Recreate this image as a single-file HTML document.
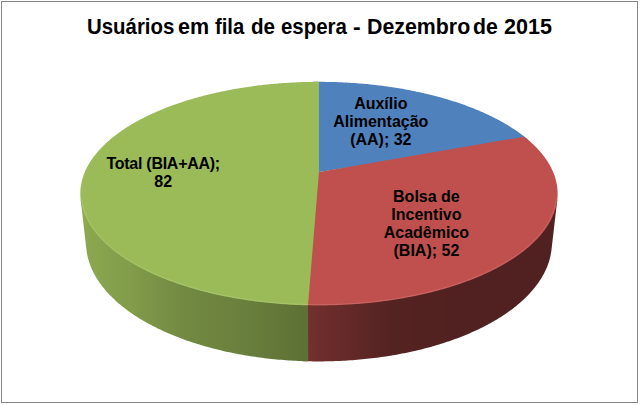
<!DOCTYPE html>
<html><head><meta charset="utf-8">
<style>
html,body{margin:0;padding:0;background:#fff;}
body{width:640px;height:405px;overflow:hidden;position:relative;}
svg{position:absolute;left:0;top:0;}
.t{position:absolute;white-space:nowrap;font-family:"Liberation Sans",sans-serif;font-weight:bold;color:#000;}
.tw{font-size:22px;line-height:1;transform-origin:0 0;}
.lbl{font-size:16px;line-height:18px;text-align:center;width:200px;}
</style></head><body>
<svg width="640" height="405" viewBox="0 0 640 405">
<rect x="0" y="0" width="640" height="405" fill="#fff"/>
<rect x="1.5" y="1.5" width="636" height="401" fill="none" stroke="#868686" stroke-width="1"/>
<linearGradient id="g1" gradientUnits="userSpaceOnUse" x1="554.33" y1="0" x2="308.16" y2="0"><stop offset="-0.0000" stop-color="rgb(80,33,32)"/><stop offset="0.0010" stop-color="rgb(80,33,32)"/><stop offset="0.0022" stop-color="rgb(80,33,32)"/><stop offset="0.0036" stop-color="rgb(80,33,32)"/><stop offset="0.0053" stop-color="rgb(80,33,32)"/><stop offset="0.0073" stop-color="rgb(80,33,32)"/><stop offset="0.0095" stop-color="rgb(80,33,32)"/><stop offset="0.0119" stop-color="rgb(80,33,32)"/><stop offset="0.0146" stop-color="rgb(80,33,32)"/><stop offset="0.0176" stop-color="rgb(80,33,32)"/><stop offset="0.0208" stop-color="rgb(80,33,32)"/><stop offset="0.0243" stop-color="rgb(80,33,32)"/><stop offset="0.0280" stop-color="rgb(80,33,32)"/><stop offset="0.0320" stop-color="rgb(80,33,32)"/><stop offset="0.0362" stop-color="rgb(80,33,32)"/><stop offset="0.0407" stop-color="rgb(80,33,32)"/><stop offset="0.0455" stop-color="rgb(80,33,32)"/><stop offset="0.0505" stop-color="rgb(80,33,32)"/><stop offset="0.0558" stop-color="rgb(80,33,32)"/><stop offset="0.0613" stop-color="rgb(80,33,32)"/><stop offset="0.0671" stop-color="rgb(80,33,32)"/><stop offset="0.0732" stop-color="rgb(80,33,32)"/><stop offset="0.0796" stop-color="rgb(80,33,32)"/><stop offset="0.0862" stop-color="rgb(80,33,32)"/><stop offset="0.0930" stop-color="rgb(80,33,32)"/><stop offset="0.1002" stop-color="rgb(80,33,32)"/><stop offset="0.1076" stop-color="rgb(80,33,32)"/><stop offset="0.1152" stop-color="rgb(80,33,32)"/><stop offset="0.1231" stop-color="rgb(80,33,32)"/><stop offset="0.1313" stop-color="rgb(80,33,32)"/><stop offset="0.1398" stop-color="rgb(80,33,32)"/><stop offset="0.1485" stop-color="rgb(80,33,32)"/><stop offset="0.1575" stop-color="rgb(80,33,32)"/><stop offset="0.1667" stop-color="rgb(80,33,32)"/><stop offset="0.1762" stop-color="rgb(80,33,32)"/><stop offset="0.1859" stop-color="rgb(80,33,32)"/><stop offset="0.1959" stop-color="rgb(80,33,32)"/><stop offset="0.2062" stop-color="rgb(80,33,32)"/><stop offset="0.2167" stop-color="rgb(80,33,32)"/><stop offset="0.2275" stop-color="rgb(80,33,32)"/><stop offset="0.2385" stop-color="rgb(80,33,32)"/><stop offset="0.2497" stop-color="rgb(80,33,32)"/><stop offset="0.2612" stop-color="rgb(80,33,32)"/><stop offset="0.2730" stop-color="rgb(80,33,32)"/><stop offset="0.2849" stop-color="rgb(80,33,32)"/><stop offset="0.2971" stop-color="rgb(80,33,32)"/><stop offset="0.3096" stop-color="rgb(80,33,32)"/><stop offset="0.3223" stop-color="rgb(80,33,32)"/><stop offset="0.3352" stop-color="rgb(80,33,32)"/><stop offset="0.3483" stop-color="rgb(80,33,32)"/><stop offset="0.3616" stop-color="rgb(80,33,32)"/><stop offset="0.3752" stop-color="rgb(80,33,32)"/><stop offset="0.3889" stop-color="rgb(80,33,32)"/><stop offset="0.4029" stop-color="rgb(80,33,32)"/><stop offset="0.4171" stop-color="rgb(80,33,32)"/><stop offset="0.4315" stop-color="rgb(80,33,32)"/><stop offset="0.4460" stop-color="rgb(81,34,32)"/><stop offset="0.4608" stop-color="rgb(81,34,32)"/><stop offset="0.4758" stop-color="rgb(81,34,32)"/><stop offset="0.4909" stop-color="rgb(81,34,33)"/><stop offset="0.5062" stop-color="rgb(81,34,33)"/><stop offset="0.5217" stop-color="rgb(82,34,33)"/><stop offset="0.5373" stop-color="rgb(82,34,33)"/><stop offset="0.5531" stop-color="rgb(82,34,33)"/><stop offset="0.5691" stop-color="rgb(82,34,33)"/><stop offset="0.5852" stop-color="rgb(83,34,33)"/><stop offset="0.6014" stop-color="rgb(83,34,33)"/><stop offset="0.6178" stop-color="rgb(83,35,33)"/><stop offset="0.6343" stop-color="rgb(83,35,33)"/><stop offset="0.6509" stop-color="rgb(83,35,33)"/><stop offset="0.6677" stop-color="rgb(84,35,34)"/><stop offset="0.6846" stop-color="rgb(86,36,34)"/><stop offset="0.7016" stop-color="rgb(87,36,35)"/><stop offset="0.7186" stop-color="rgb(89,37,36)"/><stop offset="0.7358" stop-color="rgb(90,38,36)"/><stop offset="0.7531" stop-color="rgb(92,38,37)"/><stop offset="0.7704" stop-color="rgb(93,39,37)"/><stop offset="0.7878" stop-color="rgb(95,40,38)"/><stop offset="0.8053" stop-color="rgb(97,40,39)"/><stop offset="0.8228" stop-color="rgb(98,41,39)"/><stop offset="0.8404" stop-color="rgb(100,41,40)"/><stop offset="0.8581" stop-color="rgb(101,42,41)"/><stop offset="0.8758" stop-color="rgb(103,43,41)"/><stop offset="0.8935" stop-color="rgb(104,43,42)"/><stop offset="0.9112" stop-color="rgb(106,44,42)"/><stop offset="0.9290" stop-color="rgb(107,45,43)"/><stop offset="0.9467" stop-color="rgb(109,45,44)"/><stop offset="0.9645" stop-color="rgb(111,46,44)"/><stop offset="0.9822" stop-color="rgb(113,47,45)"/><stop offset="1.0000" stop-color="rgb(115,48,46)"/></linearGradient>
<path d="M557.27,199.69 L551.46,249.90 L551.33,250.97 L551.17,252.03 L551.00,253.10 L550.81,254.16 L550.60,255.23 L550.38,256.30 L550.13,257.37 L549.86,258.44 L549.57,259.51 L549.27,260.58 L548.94,261.65 L548.59,262.72 L548.23,263.79 L547.84,264.86 L547.43,265.93 L547.01,267.00 L546.56,268.07 L546.09,269.14 L545.61,270.21 L545.10,271.28 L544.57,272.35 L544.02,273.42 L543.45,274.48 L542.86,275.55 L542.26,276.61 L541.62,277.68 L540.97,278.74 L540.30,279.80 L539.61,280.86 L538.90,281.91 L538.16,282.97 L537.41,284.02 L536.63,285.07 L535.84,286.12 L535.02,287.17 L534.18,288.21 L533.33,289.26 L532.45,290.30 L531.55,291.33 L530.63,292.37 L529.68,293.40 L528.72,294.42 L527.74,295.45 L526.73,296.47 L525.71,297.49 L524.66,298.50 L523.59,299.51 L522.51,300.52 L521.40,301.52 L520.27,302.52 L519.12,303.51 L517.95,304.50 L516.76,305.49 L515.55,306.47 L514.31,307.45 L513.06,308.42 L511.79,309.38 L510.49,310.35 L509.18,311.30 L507.84,312.25 L506.49,313.20 L505.12,314.14 L503.72,315.07 L502.31,316.00 L500.87,316.92 L499.42,317.84 L497.94,318.75 L496.45,319.65 L494.93,320.55 L493.40,321.44 L491.85,322.32 L490.28,323.20 L488.69,324.07 L487.08,324.93 L485.45,325.79 L483.80,326.64 L482.13,327.48 L480.45,328.31 L478.75,329.14 L477.03,329.95 L475.29,330.76 L473.53,331.56 L471.75,332.36 L469.96,333.14 L468.15,333.92 L466.32,334.69 L464.48,335.44 L462.61,336.19 L460.73,336.94 L458.84,337.67 L456.93,338.39 L455.00,339.11 L453.05,339.81 L451.09,340.50 L449.11,341.19 L447.12,341.86 L445.11,342.53 L443.09,343.19 L441.05,343.83 L439.00,344.47 L436.93,345.09 L434.85,345.71 L432.76,346.31 L430.65,346.90 L428.52,347.49 L426.39,348.06 L424.24,348.62 L422.07,349.17 L419.90,349.71 L417.71,350.24 L415.51,350.76 L413.30,351.26 L411.07,351.76 L408.84,352.24 L406.59,352.71 L404.33,353.17 L402.06,353.62 L399.79,354.05 L397.50,354.48 L395.20,354.89 L392.89,355.29 L390.57,355.68 L388.24,356.05 L385.91,356.42 L383.56,356.77 L381.21,357.11 L378.85,357.43 L376.48,357.75 L374.11,358.05 L371.72,358.33 L369.34,358.61 L366.94,358.87 L364.54,359.12 L362.13,359.36 L359.72,359.59 L357.30,359.80 L354.88,360.00 L352.45,360.18 L350.02,360.36 L347.58,360.52 L345.14,360.66 L342.70,360.80 L340.25,360.92 L337.80,361.03 L335.35,361.12 L332.90,361.20 L330.44,361.27 L327.99,361.33 L325.53,361.37 L323.07,361.40 L320.61,361.41 L318.15,361.41 L315.69,361.40 L313.23,361.38 L310.77,361.34 L308.32,361.29 L305.86,361.23 L303.41,361.15 L302.95,305.19 L318.97,172.11 Z" fill="url(#g1)"/>
<linearGradient id="g2" gradientUnits="userSpaceOnUse" x1="308.16" y1="0" x2="83.61" y2="0"><stop offset="-0.0000" stop-color="rgb(93,112,53)"/><stop offset="0.0184" stop-color="rgb(94,113,54)"/><stop offset="0.0367" stop-color="rgb(95,114,54)"/><stop offset="0.0550" stop-color="rgb(96,115,55)"/><stop offset="0.0733" stop-color="rgb(96,116,55)"/><stop offset="0.0915" stop-color="rgb(97,117,56)"/><stop offset="0.1097" stop-color="rgb(98,118,56)"/><stop offset="0.1278" stop-color="rgb(99,119,57)"/><stop offset="0.1459" stop-color="rgb(99,120,57)"/><stop offset="0.1639" stop-color="rgb(100,121,58)"/><stop offset="0.1818" stop-color="rgb(101,122,58)"/><stop offset="0.1996" stop-color="rgb(102,123,58)"/><stop offset="0.2174" stop-color="rgb(103,124,59)"/><stop offset="0.2350" stop-color="rgb(103,125,59)"/><stop offset="0.2526" stop-color="rgb(104,126,60)"/><stop offset="0.2701" stop-color="rgb(105,127,60)"/><stop offset="0.2874" stop-color="rgb(106,127,61)"/><stop offset="0.3046" stop-color="rgb(106,128,61)"/><stop offset="0.3217" stop-color="rgb(107,129,61)"/><stop offset="0.3387" stop-color="rgb(107,129,62)"/><stop offset="0.3556" stop-color="rgb(108,130,62)"/><stop offset="0.3723" stop-color="rgb(108,131,62)"/><stop offset="0.3888" stop-color="rgb(109,131,62)"/><stop offset="0.4052" stop-color="rgb(109,132,63)"/><stop offset="0.4215" stop-color="rgb(110,132,63)"/><stop offset="0.4376" stop-color="rgb(110,133,63)"/><stop offset="0.4535" stop-color="rgb(111,134,64)"/><stop offset="0.4693" stop-color="rgb(111,134,64)"/><stop offset="0.4848" stop-color="rgb(112,135,64)"/><stop offset="0.5003" stop-color="rgb(112,136,65)"/><stop offset="0.5155" stop-color="rgb(113,136,65)"/><stop offset="0.5305" stop-color="rgb(113,137,65)"/><stop offset="0.5454" stop-color="rgb(114,137,65)"/><stop offset="0.5600" stop-color="rgb(114,138,66)"/><stop offset="0.5745" stop-color="rgb(115,139,66)"/><stop offset="0.5887" stop-color="rgb(116,140,67)"/><stop offset="0.6028" stop-color="rgb(117,141,67)"/><stop offset="0.6166" stop-color="rgb(118,142,68)"/><stop offset="0.6302" stop-color="rgb(118,143,68)"/><stop offset="0.6436" stop-color="rgb(119,144,69)"/><stop offset="0.6568" stop-color="rgb(120,145,69)"/><stop offset="0.6697" stop-color="rgb(121,146,69)"/><stop offset="0.6825" stop-color="rgb(122,147,70)"/><stop offset="0.6950" stop-color="rgb(123,148,70)"/><stop offset="0.7072" stop-color="rgb(124,149,71)"/><stop offset="0.7193" stop-color="rgb(124,150,71)"/><stop offset="0.7311" stop-color="rgb(125,151,72)"/><stop offset="0.7426" stop-color="rgb(126,152,72)"/><stop offset="0.7539" stop-color="rgb(127,153,73)"/><stop offset="0.7650" stop-color="rgb(128,154,73)"/><stop offset="0.7758" stop-color="rgb(129,155,74)"/><stop offset="0.7864" stop-color="rgb(130,156,74)"/><stop offset="0.7968" stop-color="rgb(130,157,75)"/><stop offset="0.8068" stop-color="rgb(131,158,75)"/><stop offset="0.8167" stop-color="rgb(131,158,75)"/><stop offset="0.8263" stop-color="rgb(131,158,75)"/><stop offset="0.8356" stop-color="rgb(132,159,76)"/><stop offset="0.8447" stop-color="rgb(132,159,76)"/><stop offset="0.8535" stop-color="rgb(132,160,76)"/><stop offset="0.8620" stop-color="rgb(133,160,76)"/><stop offset="0.8703" stop-color="rgb(133,160,76)"/><stop offset="0.8784" stop-color="rgb(133,161,77)"/><stop offset="0.8862" stop-color="rgb(134,161,77)"/><stop offset="0.8937" stop-color="rgb(134,162,77)"/><stop offset="0.9010" stop-color="rgb(134,162,77)"/><stop offset="0.9080" stop-color="rgb(135,163,77)"/><stop offset="0.9147" stop-color="rgb(135,163,78)"/><stop offset="0.9212" stop-color="rgb(135,163,78)"/><stop offset="0.9275" stop-color="rgb(136,164,78)"/><stop offset="0.9335" stop-color="rgb(136,164,78)"/><stop offset="0.9392" stop-color="rgb(136,165,78)"/><stop offset="0.9446" stop-color="rgb(137,165,78)"/><stop offset="0.9498" stop-color="rgb(137,165,79)"/><stop offset="0.9548" stop-color="rgb(137,166,79)"/><stop offset="0.9595" stop-color="rgb(137,166,79)"/><stop offset="0.9639" stop-color="rgb(138,166,79)"/><stop offset="0.9681" stop-color="rgb(138,166,79)"/><stop offset="0.9721" stop-color="rgb(138,167,79)"/><stop offset="0.9757" stop-color="rgb(138,167,80)"/><stop offset="0.9792" stop-color="rgb(139,167,80)"/><stop offset="0.9824" stop-color="rgb(139,168,80)"/><stop offset="0.9853" stop-color="rgb(139,168,80)"/><stop offset="0.9880" stop-color="rgb(140,168,80)"/><stop offset="0.9904" stop-color="rgb(140,169,80)"/><stop offset="0.9926" stop-color="rgb(140,169,81)"/><stop offset="0.9946" stop-color="rgb(141,170,81)"/><stop offset="0.9963" stop-color="rgb(141,170,81)"/><stop offset="0.9978" stop-color="rgb(142,171,81)"/><stop offset="0.9990" stop-color="rgb(142,171,82)"/><stop offset="1.0000" stop-color="rgb(143,172,82)"/></linearGradient>
<path d="M308.00,305.33 L308.31,361.29 L305.85,361.23 L303.39,361.15 L300.93,361.06 L298.48,360.95 L296.03,360.84 L293.58,360.71 L291.13,360.56 L288.69,360.41 L286.25,360.24 L283.81,360.06 L281.38,359.86 L278.96,359.65 L276.54,359.43 L274.12,359.20 L271.71,358.95 L269.31,358.69 L266.92,358.42 L264.53,358.13 L262.14,357.83 L259.77,357.52 L257.40,357.20 L255.04,356.86 L252.69,356.51 L250.34,356.15 L248.01,355.78 L245.68,355.40 L243.37,355.00 L241.06,354.59 L238.76,354.17 L236.48,353.73 L234.20,353.29 L231.94,352.83 L229.68,352.36 L227.44,351.88 L225.20,351.39 L222.98,350.88 L220.78,350.37 L218.58,349.84 L216.40,349.30 L214.23,348.75 L212.07,348.19 L209.92,347.62 L207.79,347.04 L205.67,346.45 L203.57,345.85 L201.48,345.23 L199.41,344.61 L197.34,343.97 L195.30,343.33 L193.27,342.67 L191.25,342.01 L189.25,341.33 L187.27,340.65 L185.30,339.96 L183.35,339.25 L181.41,338.54 L179.49,337.82 L177.59,337.08 L175.70,336.34 L173.83,335.59 L171.98,334.83 L170.14,334.07 L168.32,333.29 L166.52,332.50 L164.74,331.71 L162.98,330.91 L161.23,330.10 L159.50,329.28 L157.79,328.46 L156.10,327.62 L154.43,326.78 L152.77,325.93 L151.14,325.08 L149.52,324.21 L147.92,323.34 L146.34,322.46 L144.78,321.58 L143.24,320.69 L141.72,319.79 L140.22,318.88 L138.74,317.97 L137.28,317.06 L135.84,316.13 L134.42,315.20 L133.02,314.27 L131.64,313.33 L130.28,312.38 L128.94,311.43 L127.62,310.47 L126.32,309.51 L125.04,308.54 L123.78,307.57 L122.55,306.59 L121.33,305.61 L120.13,304.62 L118.96,303.63 L117.80,302.63 L116.67,301.63 L115.56,300.63 L114.46,299.62 L113.39,298.61 L112.34,297.59 L111.31,296.57 L110.30,295.55 L109.31,294.52 L108.35,293.49 L107.40,292.46 L106.48,291.42 L105.57,290.38 L104.69,289.34 L103.83,288.30 L102.99,287.25 L102.17,286.20 L101.37,285.15 L100.59,284.10 L99.83,283.04 L99.09,281.99 L98.38,280.93 L97.68,279.87 L97.01,278.80 L96.36,277.74 L95.72,276.67 L95.11,275.61 L94.52,274.54 L93.95,273.47 L93.40,272.40 L92.87,271.33 L92.36,270.26 L91.87,269.19 L91.40,268.11 L90.95,267.04 L90.52,265.97 L90.12,264.90 L89.73,263.82 L89.36,262.75 L89.01,261.67 L88.68,260.60 L88.38,259.53 L88.09,258.46 L87.82,257.38 L87.57,256.31 L87.34,255.24 L87.13,254.17 L86.94,253.10 L86.77,252.04 L86.62,250.97 L86.48,249.90 L80.67,199.69 L318.97,172.11 Z" fill="url(#g2)"/>
<path d="M318.97,172.11 L312.12,81.88 L313.84,81.86 L315.56,81.84 L317.29,81.83 L319.01,81.83 L320.73,81.83 L322.45,81.84 L324.18,81.86 L325.90,81.88 L327.62,81.90 L329.34,81.94 L331.07,81.98 L332.79,82.02 L334.51,82.07 L336.23,82.12 L337.95,82.19 L339.67,82.25 L341.38,82.33 L343.10,82.40 L344.82,82.49 L346.53,82.58 L348.24,82.68 L349.96,82.78 L351.67,82.89 L353.38,83.00 L355.09,83.12 L356.79,83.24 L358.50,83.38 L360.20,83.51 L361.91,83.66 L363.61,83.80 L365.31,83.96 L367.00,84.12 L368.70,84.29 L370.39,84.46 L372.08,84.64 L373.77,84.82 L375.46,85.01 L377.14,85.20 L378.82,85.40 L380.50,85.61 L382.18,85.82 L383.85,86.04 L385.52,86.27 L387.19,86.50 L388.86,86.73 L390.52,86.97 L392.18,87.22 L393.84,87.48 L395.50,87.74 L397.15,88.00 L398.79,88.27 L400.44,88.55 L402.08,88.83 L403.72,89.12 L405.35,89.41 L406.98,89.71 L408.61,90.02 L410.23,90.33 L411.85,90.65 L413.46,90.97 L415.08,91.30 L416.68,91.63 L418.29,91.97 L419.88,92.32 L421.48,92.67 L423.07,93.03 L424.65,93.39 L426.23,93.76 L427.81,94.14 L429.38,94.52 L430.95,94.90 L432.51,95.30 L434.07,95.69 L435.62,96.10 L437.16,96.51 L438.70,96.92 L440.24,97.34 L441.77,97.77 L443.30,98.20 L444.81,98.64 L446.33,99.08 L447.84,99.53 L449.34,99.99 L450.83,100.45 L452.32,100.92 L453.81,101.39 L455.29,101.87 L456.76,102.35 L458.22,102.84 L459.68,103.33 L461.13,103.83 L462.58,104.34 L464.02,104.85 L465.45,105.37 L466.88,105.89 L468.29,106.42 L469.70,106.96 L471.11,107.50 L472.50,108.04 L473.89,108.59 L475.28,109.15 L476.65,109.71 L478.02,110.28 L479.37,110.85 L480.73,111.43 L482.07,112.02 L483.40,112.61 L484.73,113.20 L486.05,113.80 L487.36,114.41 L488.66,115.02 L489.95,115.64 L491.24,116.26 L492.51,116.89 L493.78,117.52 L495.04,118.16 L496.29,118.81 L497.53,119.46 L498.76,120.11 L499.98,120.77 L501.19,121.44 L502.39,122.11 L503.58,122.78 L504.76,123.47 L505.94,124.15 L507.10,124.85 L508.25,125.54 L509.39,126.25 L510.53,126.95 L511.65,127.67 L512.76,128.38 L513.86,129.11 L514.95,129.84 L516.03,130.57 L517.09,131.31 L518.15,132.05 L519.19,132.80 L520.23,133.55 L521.25,134.31 L522.26,135.07 L523.26,135.84 L524.25,136.61 L525.22,137.39 L526.19,138.18 L527.14,138.96 L528.08,139.76 Z" fill="#4F81BD"/>
<path d="M318.97,172.11 L524.27,136.63 L525.24,137.41 L526.20,138.19 L527.15,138.97 L528.09,139.76 L529.01,140.56 L529.92,141.36 L530.82,142.16 L531.71,142.97 L532.58,143.78 L533.44,144.60 L534.29,145.42 L535.12,146.25 L535.94,147.08 L536.75,147.92 L537.55,148.76 L538.33,149.60 L539.10,150.45 L539.85,151.30 L540.59,152.16 L541.32,153.02 L542.03,153.89 L542.72,154.76 L543.41,155.63 L544.08,156.51 L544.73,157.39 L545.37,158.28 L545.99,159.17 L546.60,160.06 L547.20,160.96 L547.78,161.86 L548.34,162.76 L548.89,163.67 L549.42,164.59 L549.94,165.50 L550.44,166.42 L550.93,167.34 L551.40,168.27 L551.85,169.20 L552.29,170.13 L552.71,171.07 L553.11,172.01 L553.50,172.95 L553.87,173.90 L554.23,174.85 L554.56,175.80 L554.88,176.76 L555.19,177.71 L555.47,178.68 L555.74,179.64 L555.99,180.60 L556.23,181.57 L556.44,182.55 L556.64,183.52 L556.82,184.50 L556.98,185.47 L557.13,186.46 L557.25,187.44 L557.36,188.42 L557.45,189.41 L557.52,190.40 L557.57,191.39 L557.60,192.39 L557.62,193.38 L557.61,194.38 L557.59,195.38 L557.55,196.38 L557.49,197.38 L557.40,198.38 L557.30,199.39 L557.18,200.39 L557.04,201.40 L556.88,202.41 L556.70,203.42 L556.51,204.43 L556.29,205.44 L556.05,206.45 L555.79,207.46 L555.51,208.48 L555.21,209.49 L554.89,210.50 L554.55,211.52 L554.19,212.53 L553.81,213.55 L553.40,214.56 L552.98,215.57 L552.54,216.59 L552.07,217.60 L551.59,218.62 L551.08,219.63 L550.55,220.64 L550.01,221.65 L549.44,222.66 L548.85,223.67 L548.23,224.68 L547.60,225.69 L546.95,226.70 L546.27,227.70 L545.58,228.71 L544.86,229.71 L544.12,230.71 L543.36,231.71 L542.57,232.71 L541.77,233.70 L540.94,234.70 L540.10,235.69 L539.23,236.68 L538.34,237.67 L537.43,238.65 L536.49,239.63 L535.54,240.61 L534.56,241.59 L533.56,242.56 L532.54,243.53 L531.50,244.50 L530.44,245.46 L529.35,246.42 L528.25,247.38 L527.12,248.33 L525.97,249.28 L524.80,250.22 L523.60,251.17 L522.39,252.10 L521.16,253.04 L519.90,253.96 L518.62,254.89 L517.32,255.81 L516.00,256.72 L514.66,257.63 L513.30,258.54 L511.92,259.44 L510.51,260.33 L509.09,261.22 L507.64,262.10 L506.17,262.98 L504.69,263.85 L503.18,264.72 L501.65,265.58 L500.10,266.44 L498.53,267.28 L496.94,268.13 L495.33,268.96 L493.71,269.79 L492.06,270.61 L490.39,271.43 L488.70,272.23 L486.99,273.04 L485.27,273.83 L483.52,274.62 L481.75,275.40 L479.97,276.17 L478.17,276.93 L476.35,277.69 L474.51,278.44 L472.65,279.18 L470.77,279.91 L468.88,280.63 L466.97,281.35 L465.04,282.06 L463.09,282.75 L461.12,283.44 L459.14,284.13 L457.14,284.80 L455.13,285.46 L453.10,286.11 L451.05,286.76 L448.99,287.39 L446.91,288.02 L444.81,288.64 L442.70,289.24 L440.57,289.84 L438.43,290.43 L436.28,291.00 L434.11,291.57 L431.92,292.13 L429.72,292.67 L427.51,293.21 L425.28,293.74 L423.04,294.25 L420.79,294.76 L418.53,295.25 L416.25,295.73 L413.96,296.21 L411.66,296.67 L409.34,297.12 L407.02,297.56 L404.68,297.98 L402.33,298.40 L399.97,298.81 L397.61,299.20 L395.23,299.58 L392.84,299.95 L390.44,300.31 L388.03,300.66 L385.62,301.00 L383.19,301.32 L380.76,301.63 L378.32,301.93 L375.87,302.22 L373.42,302.50 L370.95,302.76 L368.48,303.01 L366.01,303.25 L363.52,303.48 L361.04,303.69 L358.54,303.90 L356.04,304.09 L353.54,304.26 L351.03,304.43 L348.52,304.58 L346.00,304.72 L343.48,304.85 L340.96,304.97 L338.44,305.07 L335.91,305.16 L333.38,305.24 L330.84,305.30 L328.31,305.36 L325.78,305.40 L323.24,305.43 L320.70,305.44 L318.17,305.44 L315.63,305.43 L313.09,305.41 L310.56,305.37 L308.02,305.33 L305.49,305.26 L302.96,305.19 L300.43,305.11 L297.90,305.01 Z" fill="#C0504D"/>
<path d="M318.97,172.11 L308.00,305.33 L305.47,305.26 L302.94,305.19 L300.41,305.10 L297.88,305.01 L295.36,304.89 L292.84,304.77 L290.33,304.63 L287.81,304.49 L285.30,304.33 L282.80,304.15 L280.30,303.97 L277.81,303.77 L275.32,303.56 L272.83,303.33 L270.36,303.10 L267.89,302.85 L265.42,302.59 L262.97,302.32 L260.52,302.04 L258.07,301.74 L255.64,301.43 L253.21,301.12 L250.79,300.78 L248.38,300.44 L245.98,300.09 L243.59,299.72 L241.21,299.34 L238.84,298.95 L236.48,298.55 L234.13,298.14 L231.79,297.72 L229.46,297.28 L227.15,296.84 L224.84,296.38 L222.55,295.91 L220.27,295.43 L218.00,294.94 L215.74,294.44 L213.50,293.93 L211.27,293.41 L209.05,292.88 L206.85,292.33 L204.66,291.78 L202.48,291.22 L200.32,290.65 L198.18,290.06 L196.05,289.47 L193.93,288.87 L191.83,288.26 L189.75,287.63 L187.68,287.00 L185.62,286.36 L183.59,285.71 L181.57,285.05 L179.56,284.38 L177.58,283.71 L175.61,283.02 L173.65,282.33 L171.72,281.62 L169.80,280.91 L167.90,280.19 L166.02,279.46 L164.15,278.72 L162.31,277.98 L160.48,277.23 L158.67,276.47 L156.88,275.70 L155.11,274.92 L153.36,274.14 L151.62,273.35 L149.91,272.55 L148.21,271.74 L146.54,270.93 L144.88,270.11 L143.25,269.29 L141.63,268.45 L140.03,267.62 L138.46,266.77 L136.90,265.92 L135.37,265.06 L133.85,264.20 L132.36,263.33 L130.88,262.45 L129.43,261.57 L128.00,260.69 L126.58,259.79 L125.19,258.90 L123.82,257.99 L122.47,257.09 L121.15,256.17 L119.84,255.26 L118.55,254.34 L117.29,253.41 L116.05,252.48 L114.82,251.54 L113.62,250.60 L112.45,249.66 L111.29,248.71 L110.15,247.76 L109.04,246.81 L107.94,245.85 L106.87,244.89 L105.82,243.92 L104.79,242.95 L103.79,241.98 L102.80,241.01 L101.84,240.03 L100.90,239.05 L99.98,238.07 L99.08,237.08 L98.20,236.10 L97.34,235.11 L96.51,234.11 L95.70,233.12 L94.91,232.12 L94.14,231.12 L93.39,230.12 L92.66,229.12 L91.96,228.12 L91.27,227.12 L90.61,226.11 L89.97,225.10 L89.35,224.09 L88.75,223.08 L88.17,222.07 L87.61,221.06 L87.08,220.05 L86.56,219.04 L86.07,218.03 L85.60,217.01 L85.15,216.00 L84.71,214.99 L84.30,213.97 L83.91,212.96 L83.54,211.95 L83.20,210.93 L82.87,209.92 L82.56,208.91 L82.27,207.89 L82.00,206.88 L81.76,205.87 L81.53,204.86 L81.32,203.85 L81.13,202.84 L80.97,201.83 L80.82,200.83 L80.69,199.82 L80.58,198.81 L80.49,197.81 L80.42,196.81 L80.37,195.81 L80.34,194.81 L80.32,193.81 L80.33,192.82 L80.35,191.82 L80.40,190.83 L80.46,189.84 L80.54,188.85 L80.64,187.87 L80.76,186.88 L80.90,185.90 L81.05,184.92 L81.22,183.95 L81.41,182.97 L81.62,182.00 L81.85,181.03 L82.09,180.06 L82.35,179.10 L82.63,178.14 L82.92,177.18 L83.24,176.22 L83.57,175.27 L83.91,174.32 L84.28,173.37 L84.66,172.43 L85.05,171.49 L85.47,170.55 L85.90,169.62 L86.34,168.68 L86.81,167.76 L87.28,166.83 L87.78,165.91 L88.29,164.99 L88.81,164.08 L89.35,163.17 L89.91,162.26 L90.48,161.36 L91.07,160.46 L91.67,159.57 L92.29,158.68 L92.92,157.79 L93.57,156.91 L94.23,156.03 L94.91,155.15 L95.60,154.28 L96.30,153.41 L97.02,152.55 L97.75,151.69 L98.50,150.84 L99.26,149.99 L100.04,149.14 L100.83,148.30 L101.63,147.46 L102.44,146.63 L103.27,145.80 L104.11,144.98 L104.97,144.16 L105.83,143.34 L106.71,142.53 L107.61,141.73 L108.51,140.92 L109.43,140.13 L110.36,139.34 L111.30,138.55 L112.26,137.77 L113.22,136.99 L114.20,136.22 L115.19,135.45 L116.19,134.69 L117.20,133.93 L118.23,133.18 L119.26,132.43 L120.31,131.68 L121.37,130.95 L122.44,130.21 L123.52,129.48 L124.61,128.76 L125.71,128.04 L126.82,127.33 L127.94,126.62 L129.08,125.92 L130.22,125.22 L131.37,124.53 L132.54,123.84 L133.71,123.16 L134.89,122.48 L136.08,121.81 L137.28,121.14 L138.50,120.48 L139.72,119.83 L140.95,119.18 L142.19,118.53 L143.43,117.89 L144.69,117.26 L145.96,116.63 L147.23,116.01 L148.51,115.39 L149.81,114.77 L151.11,114.17 L152.41,113.56 L153.73,112.97 L155.06,112.38 L156.39,111.79 L157.73,111.21 L159.08,110.64 L160.44,110.07 L161.80,109.50 L163.17,108.94 L164.55,108.39 L165.94,107.84 L167.33,107.30 L168.74,106.77 L170.14,106.24 L171.56,105.71 L172.98,105.19 L174.41,104.68 L175.85,104.17 L177.29,103.67 L178.74,103.17 L180.19,102.68 L181.66,102.19 L183.12,101.71 L184.60,101.24 L186.08,100.77 L187.57,100.31 L189.06,99.85 L190.56,99.40 L192.06,98.95 L193.57,98.51 L195.09,98.08 L196.61,97.65 L198.13,97.22 L199.67,96.81 L201.20,96.39 L202.75,95.99 L204.29,95.59 L205.85,95.19 L207.40,94.80 L208.96,94.42 L210.53,94.04 L212.10,93.67 L213.68,93.30 L215.26,92.94 L216.85,92.59 L218.43,92.24 L220.03,91.89 L221.63,91.56 L223.23,91.22 L224.83,90.90 L226.45,90.58 L228.06,90.26 L229.68,89.95 L231.30,89.65 L232.92,89.35 L234.55,89.06 L236.19,88.77 L237.82,88.49 L239.46,88.22 L241.10,87.95 L242.75,87.69 L244.40,87.43 L246.05,87.18 L247.70,86.93 L249.36,86.69 L251.02,86.46 L252.69,86.23 L254.35,86.01 L256.02,85.79 L257.69,85.58 L259.37,85.37 L261.04,85.18 L262.72,84.98 L264.40,84.79 L266.09,84.61 L267.77,84.43 L269.46,84.26 L271.15,84.10 L272.84,83.94 L274.53,83.79 L276.23,83.64 L277.92,83.50 L279.62,83.36 L281.32,83.23 L283.02,83.11 L284.72,82.99 L286.43,82.88 L288.13,82.77 L289.84,82.67 L291.55,82.57 L293.26,82.48 L294.97,82.40 L296.68,82.32 L298.39,82.25 L300.10,82.18 L301.81,82.12 L303.53,82.07 L305.24,82.02 L306.96,81.97 L308.67,81.94 L310.39,81.90 L312.10,81.88 L313.82,81.86 L315.54,81.84 L317.25,81.83 L318.97,81.83 Z" fill="#9BBB59"/>
<path d="M556.09,199.55 L555.97,200.57 L555.82,201.58 L555.65,202.60 L555.46,203.62 L555.25,204.63 L555.02,205.65 L554.77,206.67 L554.49,207.69 L554.20,208.71 L553.89,209.73 L553.56,210.75 L553.20,211.77 L552.83,212.80 L552.43,213.82 L552.01,214.84 L551.58,215.86 L551.12,216.88 L550.64,217.90 L550.13,218.92 L549.61,219.94 L549.07,220.96 L548.50,221.98 L547.91,223.00 L547.30,224.01 L546.67,225.03 L546.02,226.04 L545.34,227.06 L544.65,228.07 L543.93,229.08 L543.19,230.09 L542.43,231.09 L541.64,232.10 L540.84,233.10 L540.01,234.10 L539.16,235.10 L538.29,236.10 L537.40,237.09 L536.48,238.08 L535.54,239.07 L534.58,240.06 L533.60,241.04 L532.60,242.02 L531.57,243.00 L530.52,243.97 L529.45,244.94 L528.36,245.91 L527.25,246.87 L526.11,247.83 L524.96,248.79 L523.78,249.74 L522.58,250.69 L521.35,251.63 L520.11,252.57 L518.84,253.51 L517.55,254.44 L516.24,255.36 L514.91,256.28 L513.56,257.20 L512.19,258.11 L510.79,259.01 L509.37,259.91 L507.94,260.81 L506.48,261.69 L505.00,262.58 L503.49,263.45 L501.97,264.33 L500.43,265.19 L498.86,266.05 L497.28,266.90 L495.67,267.75 L494.05,268.59 L492.40,269.42 L490.74,270.25 L489.05,271.06 L487.35,271.88 L485.62,272.68 L483.88,273.48 L482.11,274.27 L480.33,275.05 L478.52,275.82 L476.70,276.59 L474.86,277.35 L473.00,278.10 L471.12,278.84 L469.23,279.57 L467.31,280.30 L465.38,281.01 L463.43,281.72 L461.46,282.42 L459.47,283.11 L457.47,283.79 L455.45,284.46 L453.41,285.13 L451.36,285.78 L449.29,286.42 L447.20,287.06 L445.10,287.68 L442.98,288.30 L440.84,288.90 L438.69,289.50 L436.53,290.08 L434.35,290.66 L432.15,291.22 L429.95,291.78 L427.72,292.32 L425.49,292.85 L423.24,293.37 L420.97,293.88 L418.69,294.39 L416.41,294.87 L414.10,295.35 L411.79,295.82 L409.46,296.28 L407.12,296.72 L404.77,297.15 L402.41,297.58 L400.04,297.99 L397.66,298.38 L395.26,298.77 L392.86,299.15 L390.45,299.51 L388.03,299.86 L385.60,300.20 L383.16,300.53 L380.71,300.84 L378.25,301.15 L375.79,301.44 L373.32,301.72 L370.84,301.98 L368.35,302.24 L365.86,302.48 L363.36,302.71 L360.85,302.92 L358.34,303.13 L355.83,303.32 L353.31,303.50 L350.78,303.67 L348.25,303.82 L345.72,303.96 L343.18,304.09 L340.64,304.20 L338.10,304.31 L335.56,304.40 L333.01,304.47 L330.46,304.54 L327.91,304.59 L325.36,304.63 L322.80,304.65 L320.25,304.67 L317.69,304.67 L315.14,304.65 L312.59,304.63 L310.04,304.59 L307.48,304.54 L304.93,304.47 L302.39,304.40 L299.84,304.31 L297.30,304.20 L294.76,304.09 L292.22,303.96 L289.69,303.82 L287.16,303.67 L284.63,303.50 L282.11,303.32 L279.60,303.13 L277.09,302.92 L274.58,302.71 L272.08,302.48 L269.59,302.24 L267.11,301.98 L264.63,301.72 L262.16,301.44 L259.69,301.15 L257.23,300.84 L254.79,300.53 L252.35,300.20 L249.92,299.86 L247.49,299.51 L245.08,299.15 L242.68,298.77 L240.29,298.38 L237.90,297.99 L235.53,297.58 L233.17,297.15 L230.82,296.72 L228.48,296.28 L226.15,295.82 L223.84,295.35 L221.54,294.87 L219.25,294.39 L216.97,293.88 L214.71,293.37 L212.46,292.85 L210.22,292.32 L208.00,291.78 L205.79,291.22 L203.59,290.66 L201.41,290.08 L199.25,289.50 L197.10,288.90 L194.97,288.30 L192.85,287.68 L190.74,287.06 L188.66,286.42 L186.59,285.78 L184.53,285.13 L182.50,284.46 L180.47,283.79 L178.47,283.11 L176.49,282.42 L174.52,281.72 L172.57,281.01 L170.63,280.30 L168.72,279.57 L166.82,278.84 L164.94,278.10 L163.08,277.35 L161.24,276.59 L159.42,275.82 L157.62,275.05 L155.83,274.27 L154.07,273.48 L152.32,272.68 L150.60,271.88 L148.89,271.06 L147.20,270.25 L145.54,269.42 L143.89,268.59 L142.27,267.75 L140.66,266.90 L139.08,266.05 L137.51,265.19 L135.97,264.33 L134.45,263.45 L132.95,262.58 L131.47,261.69 L130.01,260.81 L128.57,259.91 L127.15,259.01 L125.76,258.11 L124.38,257.20 L123.03,256.28 L121.70,255.36 L120.39,254.44 L119.10,253.51 L117.83,252.57 L116.59,251.63 L115.37,250.69 L114.17,249.74 L112.99,248.79 L111.83,247.83 L110.69,246.87 L109.58,245.91 L108.49,244.94 L107.42,243.97 L106.37,243.00 L105.35,242.02 L104.34,241.04 L103.36,240.06 L102.40,239.07 L101.46,238.08 L100.55,237.09 L99.65,236.10 L98.78,235.10 L97.93,234.10 L97.11,233.10 L96.30,232.10 L95.52,231.09 L94.75,230.09 L94.01,229.08 L93.30,228.07 L92.60,227.06 L91.93,226.04 L91.27,225.03 L90.64,224.01 L90.03,223.00 L89.44,221.98 L88.88,220.96 L88.33,219.94 L87.81,218.92 L87.31,217.90 L86.83,216.88 L86.37,215.86 L85.93,214.84 L85.51,213.82 L85.12,212.80 L84.74,211.77 L84.39,210.75 L84.05,209.73 L83.74,208.71 L83.45,207.69 L83.18,206.67 L82.93,205.65 L82.70,204.63 L82.49,203.62 L82.30,202.60 L82.13,201.58 L81.98,200.57 L81.85,199.55" fill="none" stroke="rgba(255,255,255,0.13)" stroke-width="1"/>
</svg>
<div class="t tw" style="left:86.77px;top:15.6px;transform:scaleX(0.928)">Usuários</div>
<div class="t tw" style="left:177.77px;top:15.6px;transform:scaleX(0.978)">em</div>
<div class="t tw" style="left:215.00px;top:15.6px;transform:scaleX(0.919)">fila</div>
<div class="t tw" style="left:250.96px;top:15.6px;transform:scaleX(0.937)">de</div>
<div class="t tw" style="left:280.97px;top:15.6px;transform:scaleX(0.929)">espera</div>
<div class="t tw" style="left:352.71px;top:15.6px;transform:scaleX(1.042)">-</div>
<div class="t tw" style="left:366.53px;top:15.6px;transform:scaleX(0.970)">Dezembro</div>
<div class="t tw" style="left:472.79px;top:15.6px;transform:scaleX(0.965)">de</div>
<div class="t tw" style="left:504.02px;top:15.6px;transform:scaleX(0.979)">2015</div>
<div class="t lbl" id="l1" style="left:280.80px;top:94.50px">Auxílio<br>Alimentação<br>(AA); 32</div>
<div class="t lbl" id="l2" style="left:326.40px;top:187.50px">Bolsa de<br>Incentivo<br>Acadêmico<br>(BIA); 52</div>
<div class="t lbl" id="l3" style="left:63.20px;top:154.50px"><span style="letter-spacing:-0.27px">Total (BIA+AA);</span><br>82</div>
</body></html>
